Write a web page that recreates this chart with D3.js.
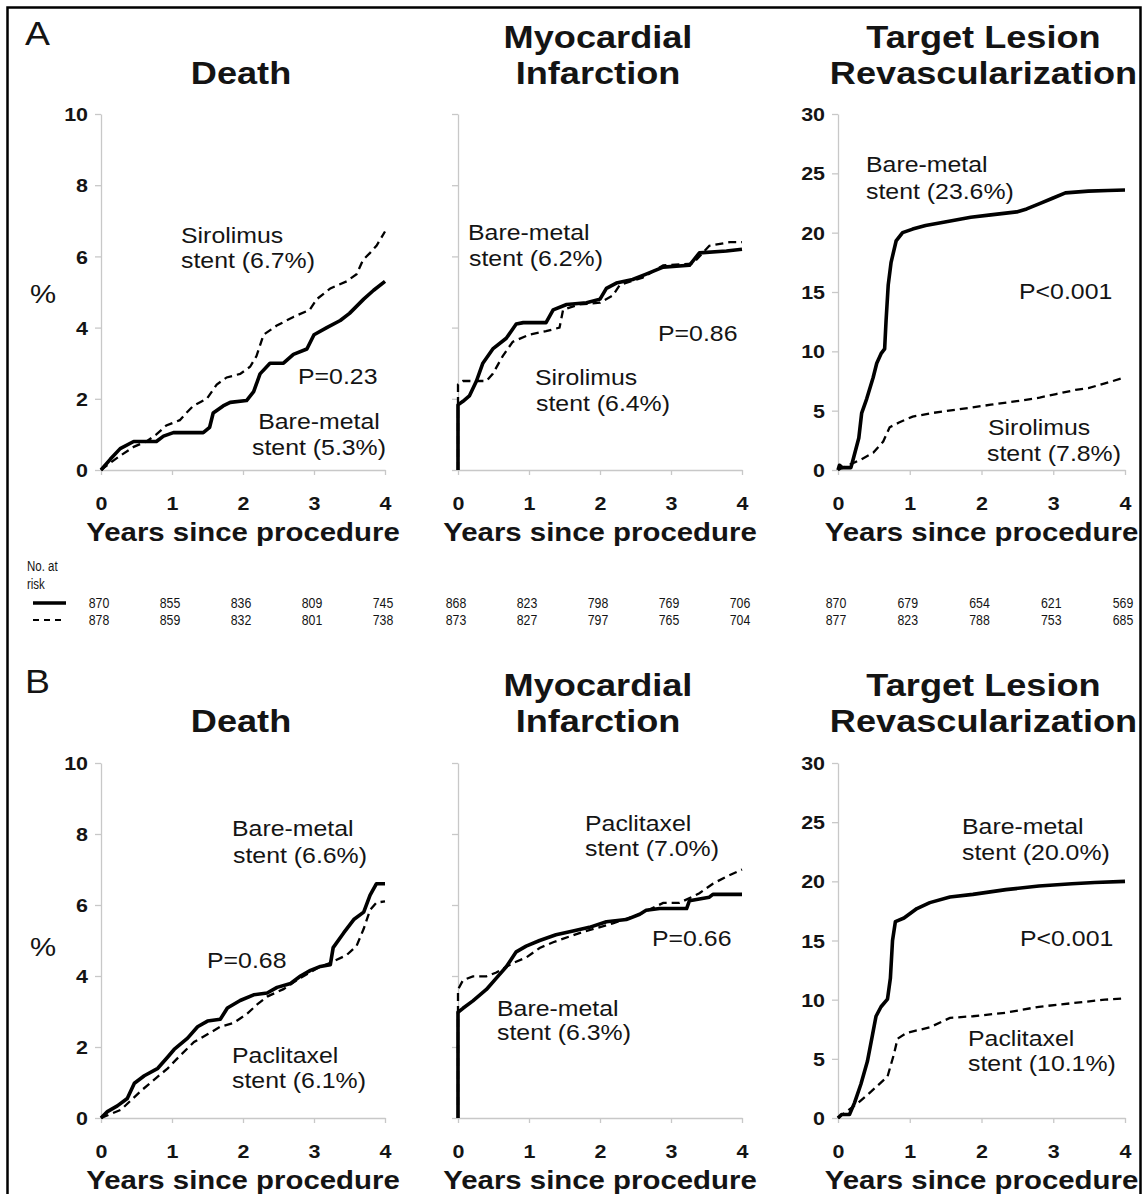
<!DOCTYPE html>
<html>
<head>
<meta charset="utf-8">
<script src="https://cdn.jsdelivr.net/npm/d3@7"></script>
<style>
  body { margin: 0; background: #fff; }
  text { font-family: "Liberation Sans", Arial, Helvetica, sans-serif; fill: #141414; }
</style>
</head>
<body>
<svg id="chart" width="1145" height="1194"></svg>
<script>
// ---------- data: cumulative incidence (%) by years since procedure ----------
const yearTicks = [0, 1, 2, 3, 4];
const pctTicks = [0, 2, 4, 6, 8, 10];
const tlrTicks = [0, 5, 10, 15, 20, 25, 30];

// Panel A: sirolimus vs bare-metal
const deathA_bare = [[0,0],[0.13,0.3],[0.27,0.6],[0.46,0.8],[0.78,0.8],[0.88,0.95],[1.02,1.05],[1.44,1.05],[1.53,1.2],[1.58,1.6],[1.72,1.8],[1.82,1.9],[2.05,1.95],[2.15,2.2],[2.24,2.7],[2.38,3.0],[2.57,3.0],[2.71,3.25],[2.9,3.4],[3.0,3.8],[3.18,4.0],[3.37,4.2],[3.5,4.4],[3.7,4.8],[3.84,5.05],[4.0,5.3]];
const deathA_drug = [[0,0],[0.13,0.2],[0.27,0.4],[0.46,0.65],[0.64,0.8],[0.78,1.0],[0.92,1.25],[1.11,1.4],[1.2,1.6],[1.3,1.8],[1.49,2.0],[1.63,2.4],[1.77,2.6],[1.96,2.7],[2.1,2.9],[2.19,3.2],[2.29,3.8],[2.47,4.05],[2.71,4.3],[2.94,4.5],[3.04,4.8],[3.23,5.1],[3.46,5.3],[3.6,5.5],[3.69,5.9],[3.79,6.1],[3.88,6.3],[4.0,6.7]];
const miA_bare = [[0,0],[0,1.83],[0.07,1.93],[0.16,2.08],[0.26,2.5],[0.35,3.0],[0.49,3.4],[0.68,3.7],[0.82,4.1],[0.92,4.14],[1.24,4.14],[1.34,4.5],[1.53,4.65],[1.81,4.7],[2.0,4.8],[2.09,5.1],[2.23,5.25],[2.46,5.35],[2.65,5.5],[2.89,5.7],[3.26,5.75],[3.4,6.1],[3.78,6.15],[4.0,6.2]];
const miA_drug = [[0,0],[0,2.4],[0.07,2.5],[0.4,2.5],[0.49,2.7],[0.63,3.2],[0.77,3.6],[1.0,3.8],[1.24,3.9],[1.43,4.0],[1.48,4.5],[1.71,4.65],[2.0,4.7],[2.18,4.9],[2.28,5.2],[2.6,5.4],[2.89,5.75],[3.31,5.8],[3.54,6.3],[3.83,6.4],[4.0,6.4]];
const tlrA_bare = [[0,0],[0.02,0.4],[0.06,0.2],[0.18,0.2],[0.22,1.1],[0.29,2.7],[0.33,4.8],[0.4,6.0],[0.49,7.8],[0.54,9.0],[0.6,9.8],[0.65,10.2],[0.67,12.6],[0.7,15.6],[0.74,17.5],[0.81,19.3],[0.9,20.0],[1.04,20.3],[1.22,20.6],[1.49,20.9],[1.85,21.3],[2.13,21.5],[2.49,21.75],[2.63,22.0],[2.81,22.45],[2.99,22.9],[3.17,23.35],[3.49,23.5],[3.76,23.55],[4.0,23.6]];
const tlrA_drug = [[0,0],[0.31,0.85],[0.49,1.45],[0.63,2.4],[0.72,3.6],[0.85,4.0],[1.04,4.5],[1.31,4.8],[1.67,5.1],[2.13,5.5],[2.49,5.8],[2.81,6.1],[3.04,6.4],[3.31,6.75],[3.49,6.9],[3.72,7.3],[4.0,7.8]];

// Panel B: paclitaxel vs bare-metal
const deathB_bare = [[0,0],[0.09,0.18],[0.23,0.34],[0.37,0.55],[0.47,0.98],[0.61,1.19],[0.8,1.4],[0.94,1.72],[1.03,1.93],[1.22,2.25],[1.36,2.57],[1.5,2.73],[1.68,2.78],[1.78,3.1],[1.96,3.31],[2.15,3.47],[2.34,3.52],[2.48,3.68],[2.67,3.79],[2.81,4.0],[2.95,4.16],[3.09,4.27],[3.23,4.32],[3.27,4.8],[3.42,5.22],[3.56,5.59],[3.7,5.8],[3.79,6.28],[3.88,6.6],[4.0,6.6]];
const deathB_drug = [[0,0],[0.28,0.23],[0.56,0.76],[0.75,1.08],[0.94,1.4],[1.12,1.77],[1.31,2.14],[1.5,2.36],[1.68,2.57],[1.87,2.68],[2.06,2.94],[2.2,3.2],[2.34,3.42],[2.57,3.63],[2.81,3.95],[3.04,4.21],[3.23,4.37],[3.46,4.59],[3.6,4.85],[3.7,5.33],[3.79,5.86],[3.88,6.07],[4.0,6.1]];
const miB_bare = [[0,0],[0,2.98],[0.07,3.09],[0.21,3.3],[0.4,3.62],[0.54,3.94],[0.68,4.26],[0.82,4.68],[0.96,4.84],[1.15,5.0],[1.38,5.16],[1.62,5.27],[1.85,5.37],[2.09,5.53],[2.37,5.59],[2.56,5.74],[2.65,5.85],[2.84,5.9],[3.22,5.9],[3.26,6.12],[3.54,6.22],[3.59,6.3],[4.0,6.3]];
const miB_drug = [[0,0],[0,3.62],[0.07,3.88],[0.21,3.99],[0.4,3.99],[0.54,4.1],[0.77,4.36],[0.96,4.52],[1.15,4.79],[1.34,4.95],[1.71,5.21],[2.18,5.48],[2.56,5.74],[2.89,6.06],[3.12,6.06],[3.4,6.33],[3.59,6.6],[3.78,6.8],[4.0,7.0]];
const tlrB_bare = [[0,0],[0.05,0.3],[0.16,0.3],[0.23,1.28],[0.32,2.87],[0.41,4.79],[0.48,7.0],[0.53,8.6],[0.6,9.4],[0.69,10.05],[0.73,11.8],[0.76,15.0],[0.8,16.6],[0.92,16.9],[1.1,17.7],[1.28,18.2],[1.56,18.67],[1.88,18.9],[2.34,19.3],[2.8,19.6],[3.26,19.8],[3.58,19.9],[4.0,20.0]];
const tlrB_drug = [[0,0],[0.28,1.28],[0.46,2.23],[0.69,3.5],[0.78,5.4],[0.83,6.7],[0.96,7.2],[1.28,7.66],[1.56,8.46],[1.88,8.6],[2.34,8.9],[2.8,9.4],[3.26,9.7],[3.72,10.0],[4.0,10.1]];

// number at risk (solid = bare-metal, dashed = drug-eluting)
const riskDeath_bare = [870, 855, 836, 809, 745];
const riskDeath_drug = [878, 859, 832, 801, 738];
const riskMI_bare = [868, 823, 798, 769, 706];
const riskMI_drug = [873, 827, 797, 765, 704];
const riskTLR_bare = [870, 679, 654, 621, 569];
const riskTLR_drug = [877, 823, 788, 753, 685];

// ---------- drawing ----------
const svg = d3.select("#chart");
const SX = 1.13; // horizontal stretch of the lettering

function label(x, y, str, o = {}) {
  const t = svg.append("text")
    .attr("transform", `translate(${x},${y}) scale(${o.sx ?? SX},1)`)
    .attr("dy", "0.35em")
    .attr("text-anchor", o.anchor || "start")
    .style("font-size", (o.size || 22.5) + "px")
    .style("font-weight", o.weight || "normal")
    .text(str);
  return t;
}

// outer frame
svg.append("rect").attr("x", 7.5).attr("y", 7.5).attr("width", 1133).attr("height", 1210)
  .attr("fill", "none").attr("stroke", "#000").attr("stroke-width", 2.5);

const colX = [[101, 385], [458, 742], [838, 1125]];
const rowY = [[470, 114], [1118, 763]];

function panel(col, row, ymax, ticks, showYLabels, bare, drug) {
  const x = d3.scaleLinear().domain([0, 4]).range(colX[col]);
  const y = d3.scaleLinear().domain([0, ymax]).range(rowY[row]);
  const g = svg.append("g");

  const ya = g.append("g").attr("transform", `translate(${colX[col][0]},0)`)
    .call(d3.axisLeft(y).tickValues(ticks).tickSize(6).tickSizeOuter(0)
      .tickFormat(showYLabels ? d3.format("d") : () => ""));
  const xa = g.append("g").attr("transform", `translate(0,${rowY[row][0]})`)
    .call(d3.axisBottom(x).tickValues(yearTicks).tickSize(5).tickSizeOuter(0).tickFormat(d3.format("d")));
  [ya, xa].forEach(a => {
    a.select(".domain").attr("stroke", "#c8c8c8").attr("stroke-width", 1.3);
    a.selectAll(".tick line").attr("stroke", "#c8c8c8").attr("stroke-width", 1.3);
    a.selectAll("text").style("font-size", "19px").style("font-weight", "bold")
      .style("font-family", '"Liberation Sans", Arial, sans-serif').attr("fill", "#1a1a1a");
  });
  ya.selectAll("text").attr("x", -13 / SX).attr("dy", "0.35em").attr("transform", `scale(${SX},1)`);
  xa.selectAll("text").attr("y", 33).attr("dy", "0.35em")
    .attr("transform", `scale(${SX},1)`)
    .attr("x", 0);

  const line = d3.line().x(d => x(d[0])).y(d => y(d[1]));
  g.append("path").datum(drug).attr("d", line).attr("fill", "none")
    .attr("stroke", "#000").attr("stroke-width", 2.3).attr("stroke-dasharray", "8 5");
  g.append("path").datum(bare).attr("d", line).attr("fill", "none")
    .attr("stroke", "#000").attr("stroke-width", 3.6).attr("stroke-linejoin", "round");

  const cx = (colX[col][0] + colX[col][1]) / 2;
  label(cx, rowY[row][0] + 62, "Years since procedure", { anchor: "middle", size: 26, weight: "bold" });
  return { x, y, cx };
}

// row A
const pA1 = panel(0, 0, 10, pctTicks, true, deathA_bare, deathA_drug);
const pA2 = panel(1, 0, 10, pctTicks, false, miA_bare, miA_drug);
const pA3 = panel(2, 0, 30, tlrTicks, true, tlrA_bare, tlrA_drug);
// row B
const pB1 = panel(0, 1, 10, pctTicks, true, deathB_bare, deathB_drug);
const pB2 = panel(1, 1, 10, pctTicks, false, miB_bare, miB_drug);
const pB3 = panel(2, 1, 30, tlrTicks, true, tlrB_bare, tlrB_drug);

// panel letters, titles and axis labels
const T = { anchor: "middle", size: 32, weight: "bold" };
[[0, 33], [1, 681]].forEach(([r, top]) => {
  label(25, top, r === 0 ? "A" : "B", { size: 34, sx: 1.1 });
  label(pA1.cx - 2, top + 40, "Death", T);
  label(pA2.cx - 2, top + 4, "Myocardial", T);
  label(pA2.cx - 2, top + 40, "Infarction", T);
  label(pA3.cx + 2, top + 4, "Target Lesion", T);
  label(pA3.cx + 2, top + 40, "Revascularization", T);
});
label(43, 294, "%", { anchor: "middle", size: 26 });
label(43, 947, "%", { anchor: "middle", size: 26 });

// curve annotations
const notes = [
  [181, 235, "Sirolimus"], [181, 260, "stent (6.7%)"], [298, 376, "P=0.23"],
  [319, 421, "Bare-metal", "middle"], [319, 447, "stent (5.3%)", "middle"],
  [468, 232, "Bare-metal"], [469, 258, "stent (6.2%)"], [658, 333, "P=0.86"],
  [535, 377, "Sirolimus"], [536, 403, "stent (6.4%)"],
  [866, 164, "Bare-metal"], [866, 191, "stent (23.6%)"], [1019, 291, "P<0.001"],
  [988, 427, "Sirolimus"], [987, 453, "stent (7.8%)"],
  [232, 828, "Bare-metal"], [233, 855, "stent (6.6%)"], [207, 960, "P=0.68"],
  [232, 1055, "Paclitaxel"], [232, 1080, "stent (6.1%)"],
  [585, 823, "Paclitaxel"], [585, 848, "stent (7.0%)"], [652, 938, "P=0.66"],
  [497, 1008, "Bare-metal"], [497, 1032, "stent (6.3%)"],
  [962, 826, "Bare-metal"], [962, 852, "stent (20.0%)"], [1020, 938, "P<0.001"],
  [968, 1038, "Paclitaxel"], [968, 1063, "stent (10.1%)"]
];
notes.forEach(([x, y, s, a]) => label(x, y, s, { anchor: a || "start", size: 22 }));

// number-at-risk table
label(27, 566, "No. at", { size: 14, sx: 0.82 });
label(27, 584, "risk", { size: 14, sx: 0.82 });
svg.append("line").attr("x1", 33).attr("x2", 66).attr("y1", 603).attr("y2", 603)
  .attr("stroke", "#000").attr("stroke-width", 3.6);
svg.append("line").attr("x1", 33).attr("x2", 66).attr("y1", 620).attr("y2", 620)
  .attr("stroke", "#000").attr("stroke-width", 2).attr("stroke-dasharray", "6 5");
const riskRows = [
  [pA1, riskDeath_bare, riskDeath_drug],
  [pA2, riskMI_bare, riskMI_drug],
  [pA3, riskTLR_bare, riskTLR_drug]
];
riskRows.forEach(([p, solid, dashed]) => {
  yearTicks.forEach((yr, i) => {
    label(p.x(yr) - 2, 603, solid[i], { anchor: "middle", size: 14.5, sx: 0.85 });
    label(p.x(yr) - 2, 620, dashed[i], { anchor: "middle", size: 14.5, sx: 0.85 });
  });
});
</script>
</body>
</html>
